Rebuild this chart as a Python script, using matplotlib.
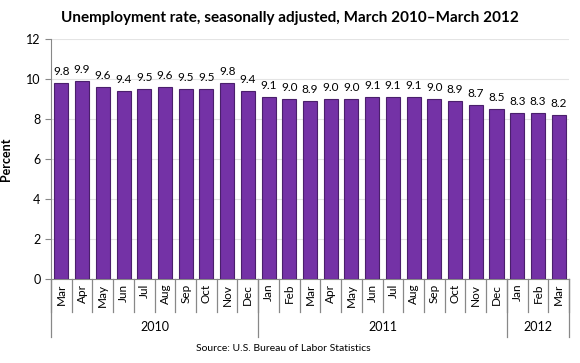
import numpy as np
import matplotlib.pyplot as plt
import matplotlib.transforms as mtrans

plt.rcParams['font.family'] = ['Lato', 'DejaVu Sans']

months = ['Mar', 'Apr', 'May', 'Jun', 'Jul', 'Aug', 'Sep', 'Oct', 'Nov', 'Dec',
          'Jan', 'Feb', 'Mar', 'Apr', 'May', 'Jun', 'Jul', 'Aug', 'Sep', 'Oct', 'Nov', 'Dec',
          'Jan', 'Feb', 'Mar']
rates = [9.8, 9.9, 9.6, 9.4, 9.5, 9.6, 9.5, 9.5, 9.8, 9.4,
         9.1, 9.0, 8.9, 9.0, 9.0, 9.1, 9.1, 9.1, 9.0, 8.9, 8.7, 8.5,
         8.3, 8.3, 8.2]
years = ['2010', '2011', '2012']
year_counts = [10, 12, 3]

fig = plt.figure(figsize=(5.8, 3.63), dpi=100)
ax = fig.add_axes([0.088, 0.2314, 0.893, 0.6612])

x = np.arange(len(rates))
ax.bar(x, rates, width=0.68, color='#7432a6', edgecolor='#4a1f6c', linewidth=0.8, zorder=3)
for xi, v in zip(x, rates):
    ax.text(xi, v + 0.28, f'{v:.1f}', ha='center', va='bottom', fontsize=8.5)

ax.set_xlim(-0.5, len(rates) - 0.5)
ax.set_ylim(0, 12)
ax.set_yticks(range(0, 13, 2))
ax.tick_params(axis='y', labelsize=9, length=4, color='#888888')
ax.yaxis.grid(True, color='#e4e4e4', linewidth=0.8, zorder=0)
for s in ['top', 'right']:
    ax.spines[s].set_visible(False)
ax.spines['left'].set_color('#888888')
ax.spines['bottom'].set_color('#888888')
ax.set_xticks([])
ax.set_ylabel('Percent', fontsize=9, fontweight='bold', labelpad=10)

trans = mtrans.blended_transform_factory(ax.transData, ax.transAxes)
for xi, m in zip(x, months):
    ax.text(xi, -0.02, m, rotation=90, ha='center', va='top', fontsize=8.5, transform=trans)

# month separators
for b in np.arange(-0.5, len(rates), 1.0):
    ax.plot([b, b], [0, -0.1375], color='#888888', lw=0.9, transform=trans, clip_on=False)

# year separators and labels
start = -0.5
bounds = [start]
for yr, n in zip(years, year_counts):
    end = start + n
    ax.text((start + end) / 2, -0.2, yr, ha='center', va='center', fontsize=9, transform=trans)
    bounds.append(end)
    start = end
for b in bounds:
    ax.plot([b, b], [0, -0.242], color='#888888', lw=0.9, transform=trans, clip_on=False)

fig.text(0.5, 0.95, 'Unemployment rate, seasonally adjusted, March 2010\u2013March 2012',
         ha='center', va='center', fontsize=11, fontweight='bold')
fig.text(0.488, 0.04, 'Source: U.S. Bureau of Labor Statistics', ha='center', va='center', fontsize=7.5)

fig.savefig('out.png', dpi=100)
